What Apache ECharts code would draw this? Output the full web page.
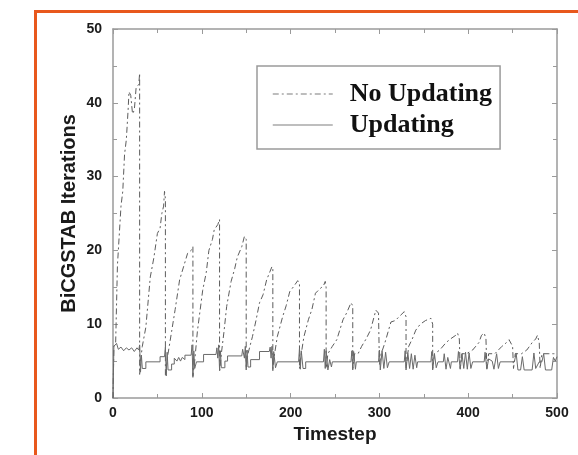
<!DOCTYPE html>
<html>
<head>
<meta charset="utf-8">
<script src="https://cdn.jsdelivr.net/npm/echarts@6/dist/echarts.min.js"></script>
<style>
  html, body { margin: 0; padding: 0; background: #fff; }
  #chart { width: 578px; height: 455px; }
</style>
</head>
<body>
<div id="chart"></div>
<script>
// 数据: [timestep, iterations]，从图上读取的转折点
const seriesNames = ['No Updating', 'Updating'];

const noUpdating = [
  [0, 0], [1, 7], [3, 7.5], [5, 18], [7, 22], [9, 26], [11, 28], [13, 33], [15, 35], [17, 39],
  [18, 41.5], [20, 41], [22, 38.5], [24, 39], [26, 42], [29, 42.5], [30, 44], [30, 3.2],
  [31, 5], [33, 7], [37, 9.6], [42, 16.4], [46, 19], [50, 22.3], [53, 23], [55, 25], [57, 26], [58, 28], [59, 27], [59, 3],
  [60, 4], [62, 6], [66, 9], [70, 12], [75, 16], [80, 18], [84, 19.6], [88, 20], [90, 20.5], [90, 3],
  [92, 5], [95, 9], [101, 14.6], [105, 17], [108, 20], [112, 21.5], [114, 22.8], [118, 23.5], [120, 24.2], [120, 3.5],
  [122, 6], [125, 9], [128, 12.4], [133, 15.8], [137, 17.5], [140, 19.1], [145, 20.5], [148, 21.9], [150, 21.5], [150, 4],
  [152, 6], [157, 8.3], [161, 10.5], [165, 12.9], [169, 14], [173, 16], [177, 17.2], [179, 17.8], [180, 17.5], [180, 4],
  [182, 6], [185, 8.3], [191, 11], [195, 12.5], [199, 14.4], [204, 15.2], [208, 15.9], [210, 15.5], [210, 4],
  [212, 6], [215, 8.3], [220, 10.6], [224, 12], [228, 14.2], [233, 14.8], [237, 15.2], [239, 15.8], [240, 15], [240, 4],
  [242, 6], [247, 7], [252, 7.9], [259, 10.6], [263, 11.5], [268, 12.9], [270, 12.5], [270, 4],
  [272, 6], [276, 6], [280, 7], [285, 8], [290, 9.2], [294, 11], [296, 11.9], [299, 11.5], [300, 4.5],
  [302, 6], [306, 7.4], [313, 10.3], [318, 10.5], [322, 11], [328, 11.7], [330, 11], [330, 4],
  [332, 6], [333, 7], [337, 8], [341, 9.2], [346, 10], [352, 10.5], [358, 10.8], [360, 10], [360, 4],
  [362, 6], [368, 6.5], [375, 7.5], [380, 8], [386, 8.5], [388, 8.8], [390, 8], [391, 4],
  [393, 6], [398, 6], [405, 6.5], [412, 7.5], [415, 8.5], [418, 8.8], [420, 8], [421, 4],
  [423, 6], [430, 6], [438, 7], [443, 7.5], [446, 7.9], [450, 7], [451, 4],
  [453, 6], [460, 6], [466, 6.5], [472, 7.5], [476, 8], [478, 8.5], [480, 7.5], [481, 4],
  [483, 6], [490, 6], [496, 6], [500, 6]
];

const updating = [
  [0, 0], [1, 7], [4, 7.4], [6, 6.6], [9, 6.9], [12, 6.4], [15, 6.8], [18, 6.5], [21, 6.8], [24, 6.3], [27, 6.8], [29, 6.5],
  [30, 7.2], [31, 3.5], [32, 5.8], [33, 4.0], [37, 4.0], [37, 4.9], [53, 4.9], [53, 5.6], [58, 5.6],
  [59, 6.9], [60, 3.0], [61, 6.2], [62, 3.8], [66, 3.8], [66, 4.6], [69, 4.6], [69, 5.4], [72, 5.0], [74, 5.5], [76, 5.0],
  [78, 5.5], [81, 5.2], [81, 5.8], [88, 5.8], [89, 7.2], [90, 2.8], [91, 6.4], [92, 4.0], [94, 4.0], [94, 4.9],
  [102, 4.9], [102, 5.9], [116, 5.9], [117, 6.8], [118, 5.4], [119, 7.2], [120, 3.8], [121, 6.4], [122, 4.1], [126, 4.1],
  [126, 5.0], [129, 5.0], [129, 5.7], [145, 5.7], [146, 6.6], [148, 5.4], [149, 7.0], [150, 3.8], [151, 6.5], [152, 4.2],
  [155, 4.2], [155, 5.2], [165, 5.2], [165, 6.3], [176, 6.3], [177, 6.9], [178, 5.4], [179, 7.0], [180, 3.7], [181, 6.3],
  [183, 4.1], [185, 4.1], [185, 4.9], [209, 4.9], [210, 6.7], [211, 3.9], [212, 6.4], [214, 4.0], [217, 4.0], [217, 4.9],
  [237, 4.9], [238, 6.6], [239, 4.0], [240, 6.4], [242, 3.8], [244, 5.2], [246, 4.2], [247, 4.9],
  [268, 4.9], [269, 6.4], [270, 3.8], [271, 6.3], [273, 3.9], [274, 4.9],
  [299, 4.9], [300, 6.5], [301, 3.8], [303, 6.4], [305, 4.0], [307, 6.2], [309, 4.1], [311, 4.9],
  [328, 4.9], [329, 6.4], [330, 3.8], [332, 6.2], [334, 4.0], [336, 6.0], [338, 3.9], [340, 5.8], [342, 4.1], [343, 4.9],
  [358, 4.9], [359, 6.3], [360, 3.8], [362, 6.0], [364, 4.1], [366, 4.9], [372, 4.9], [373, 6.0], [375, 3.9], [377, 5.5],
  [380, 4.0], [381, 4.9], [388, 4.9], [389, 6.3], [391, 3.9], [393, 6.0], [395, 4.0], [397, 6.2], [399, 3.9], [401, 6.1],
  [403, 4.0], [405, 4.9], [418, 4.9], [419, 6.2], [421, 3.9], [423, 3.8], [423, 5.3], [427, 5.0], [429, 3.9], [432, 6.0],
  [434, 4.0], [436, 4.9], [452, 4.9], [454, 6.1], [456, 3.8], [459, 3.8], [461, 5.6], [463, 3.8], [472, 3.8],
  [474, 6.1], [476, 4.0], [480, 4.9], [483, 4.9], [485, 6.0], [487, 3.8], [494, 3.8], [496, 5.5], [498, 5.0], [500, 5.6]
];

const chart = echarts.init(document.getElementById('chart'));

const tickFont = { color: '#1a1a1a', fontSize: 14, fontWeight: 'bold', fontFamily: 'Liberation Sans' };
const frameLine = { show: true, onZero: false, lineStyle: { color: '#9a9a9a', width: 1.5 } };
const tickIn = { inside: true, length: 5, lineStyle: { color: '#9a9a9a' } };
const minorIn = { show: true, splitNumber: 2, length: 4, lineStyle: { color: '#9a9a9a' } };

chart.setOption({
  animation: false,
  backgroundColor: '#fff',
  grid: { left: 113, top: 29, right: 21, bottom: 57 },
  xAxis: [
    {
      type: 'value', min: 0, max: 500, interval: 100,
      name: 'Timestep', nameLocation: 'middle', nameGap: 22,
      nameTextStyle: { color: '#1a1a1a', fontSize: 19, fontWeight: 'bold', fontFamily: 'Liberation Sans' },
      axisLine: frameLine, axisTick: tickIn, minorTick: minorIn,
      axisLabel: Object.assign({ margin: 8 }, tickFont),
      splitLine: { show: false }
    },
    {
      type: 'value', min: 0, max: 500, interval: 100, position: 'top',
      axisLine: frameLine, axisTick: tickIn, minorTick: minorIn,
      axisLabel: { show: false },
      splitLine: { show: false }
    }
  ],
  yAxis: [
    {
      type: 'value', min: 0, max: 50, interval: 10,
      name: 'BiCGSTAB Iterations', nameLocation: 'middle', nameGap: 34, nameMoveOverlap: false,
      nameTextStyle: { color: '#1a1a1a', fontSize: 20, fontWeight: 'bold', fontFamily: 'Liberation Sans' },
      axisLine: frameLine, axisTick: tickIn, minorTick: minorIn,
      axisLabel: Object.assign({ margin: 11 }, tickFont),
      splitLine: { show: false }
    },
    {
      type: 'value', min: 0, max: 50, interval: 10, position: 'right',
      axisLine: frameLine, axisTick: tickIn, minorTick: minorIn,
      axisLabel: { show: false },
      splitLine: { show: false }
    }
  ],
  legend: {
    orient: 'vertical',
    left: 257, top: 66,
    padding: [15, 8, 11, 15],
    itemWidth: 60, itemHeight: 14, itemGap: 5,
    borderColor: '#9a9a9a', borderWidth: 1.5,
    itemStyle: { opacity: 0 },
    lineStyle: { color: '#a8a8a8', width: 1.5 },
    textStyle: { color: '#111', fontSize: 26, fontWeight: 'bold', fontFamily: 'Liberation Serif', padding: [0, 0, 0, 12] },
    data: seriesNames
  },
  graphic: [
    {
      type: 'rect', left: 33, top: 9, silent: true,
      shape: { width: 600, height: 500 },
      style: { fill: 'none', stroke: '#e8581c', lineWidth: 3 }
    }
  ],
  series: [
    {
      name: seriesNames[0], type: 'line', data: noUpdating,
      showSymbol: false, symbol: 'none',
      lineStyle: { color: '#5c5c5c', width: 1, type: [6, 3, 2, 3] }
    },
    {
      name: seriesNames[1], type: 'line', data: updating,
      showSymbol: false, symbol: 'none',
      lineStyle: { color: '#6a6a6a', width: 1 }
    }
  ]
});
</script>
</body>
</html>
